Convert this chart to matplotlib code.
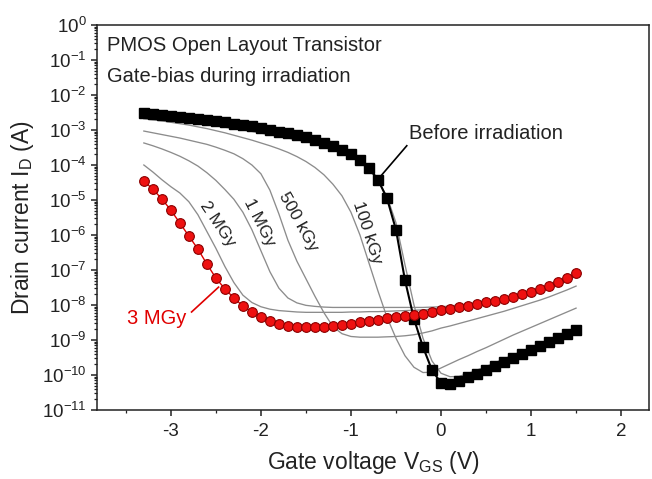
import numpy as np
import matplotlib
matplotlib.use('Agg')
import matplotlib.pyplot as plt
from matplotlib.ticker import LogLocator, LogFormatterSciNotation, MultipleLocator, NullFormatter

plt.rcParams['font.family'] = ['Liberation Sans', 'DejaVu Sans']
plt.rcParams['mathtext.fontset'] = 'custom'
plt.rcParams['mathtext.rm'] = 'Liberation Sans'
plt.rcParams['mathtext.it'] = 'Liberation Sans:italic'
plt.rcParams['mathtext.bf'] = 'Liberation Sans:bold'
plt.rcParams['axes.unicode_minus'] = False

# gate voltage sweep (V)
vgs = [-3.3, -3.2, -3.1, -3.0, -2.9, -2.8, -2.7, -2.6, -2.5, -2.4,
       -2.3, -2.2, -2.1, -2.0, -1.9, -1.8, -1.7, -1.6, -1.5, -1.4,
       -1.3, -1.2, -1.1, -1.0, -0.9, -0.8, -0.7, -0.6, -0.5, -0.4,
       -0.3, -0.2, -0.1, 0.0, 0.1, 0.2, 0.3, 0.4, 0.5, 0.6,
       0.7, 0.8, 0.9, 1.0, 1.1, 1.2, 1.3, 1.4, 1.5]

# log10 of drain current (A)
log_before = [-2.52, -2.54, -2.56, -2.59, -2.62, -2.65, -2.68, -2.71, -2.74, -2.78,
              -2.82, -2.86, -2.90, -2.95, -3.00, -3.05, -3.10, -3.15, -3.21, -3.28,
              -3.36, -3.45, -3.56, -3.68, -3.85, -4.08, -4.42, -4.95, -5.85, -7.29,
              -8.40, -9.20, -9.86, -10.23, -10.26, -10.18, -10.07, -9.96, -9.85, -9.74,
              -9.62, -9.51, -9.40, -9.28, -9.17, -9.05, -8.94, -8.83, -8.71]

log_3mgy = [-4.46, -4.69, -4.97, -5.29, -5.66, -6.03, -6.40, -6.83, -7.23, -7.54,
            -7.80, -8.03, -8.20, -8.34, -8.46, -8.54, -8.60, -8.63, -8.63, -8.63,
            -8.62, -8.60, -8.57, -8.53, -8.49, -8.46, -8.42, -8.38, -8.35, -8.32,
            -8.29, -8.25, -8.20, -8.14, -8.11, -8.06, -8.03, -7.97, -7.91, -7.89,
            -7.83, -7.77, -7.69, -7.63, -7.54, -7.46, -7.34, -7.23, -7.09]

log_2mgy = [-4.00, -4.20, -4.42, -4.62, -4.80, -5.05, -5.42, -5.90, -6.38, -6.90,
            -7.36, -7.72, -7.93, -8.05, -8.12, -8.16, -8.18, -8.20, -8.21, -8.21,
            -8.21, -8.21, -8.21, -8.20, -8.20, -8.19, -8.19, -8.18, -8.17, -8.16,
            -8.15, -8.14, -8.12, -8.10, -8.08, -8.05, -8.01, -7.97, -7.92, -7.88,
            -7.83, -7.77, -7.71, -7.64, -7.57, -7.49, -7.40, -7.29, -7.17]

log_1mgy = [-3.37, -3.45, -3.54, -3.64, -3.75, -3.88, -4.03, -4.22, -4.44, -4.70,
            -4.98, -5.35, -5.85, -6.45, -7.05, -7.52, -7.80, -7.94, -8.01, -8.04,
            -8.06, -8.07, -8.07, -8.07, -8.07, -8.07, -8.07, -8.07, -8.07, -8.07,
            -8.07, -8.07, -8.06, -8.05, -8.03, -8.00, -7.97, -7.93, -7.89, -7.85,
            -7.80, -7.75, -7.69, -7.63, -7.56, -7.48, -7.39, -7.29, -7.17]

log_500kgy = [-3.03, -3.08, -3.13, -3.18, -3.23, -3.29, -3.35, -3.41, -3.49, -3.58,
              -3.68, -3.82, -4.00, -4.25, -4.72, -5.40, -6.15, -6.75, -7.25, -7.75,
              -8.22, -8.62, -8.82, -8.90, -8.92, -8.92, -8.92, -8.91, -8.90, -8.88,
              -8.85, -8.80, -8.74, -8.66, -8.60, -8.53, -8.46, -8.39, -8.32, -8.25,
              -8.18, -8.10, -8.02, -7.94, -7.86, -7.77, -7.67, -7.57, -7.46]

log_100kgy = [-2.68, -2.71, -2.74, -2.78, -2.82, -2.86, -2.91, -2.96, -3.02, -3.08,
              -3.15, -3.22, -3.29, -3.37, -3.45, -3.54, -3.64, -3.76, -3.90, -4.07,
              -4.28, -4.55, -4.88, -5.35, -6.00, -6.80, -7.60, -8.35, -8.95, -9.45,
              -9.78, -9.93, -9.92, -9.80, -9.68, -9.56, -9.45, -9.33, -9.22, -9.10,
              -8.98, -8.86, -8.75, -8.64, -8.53, -8.42, -8.31, -8.20, -8.09]

log_low = [-2.62, -2.64, -2.67, -2.70, -2.73, -2.77, -2.80, -2.84, -2.88, -2.92,
           -2.96, -3.00, -3.04, -3.09, -3.13, -3.18, -3.23, -3.28, -3.33, -3.39,
           -3.46, -3.54, -3.64, -3.76, -3.92, -4.13, -4.45, -4.90, -5.65, -6.85,
           -8.00, -8.95, -9.60, -9.95, -10.05, -10.04, -9.96, -9.86, -9.76, -9.65,
           -9.54, -9.43, -9.32, -9.21, -9.10, -8.99, -8.88, -8.77, -8.66]

gray_curves = [log_low, log_100kgy, log_500kgy, log_1mgy, log_2mgy]

dose_labels = ['2 MGy', '1 MGy', '500 kGy', '100 kGy']
dose_label_x = [-2.48, -2.02, -1.59, -0.82]
dose_label_logy = [-5.69, -5.63, -5.63, -5.94]
dose_label_rot = [-56, -63, -61, -72]

txt = '#222222'

fig = plt.figure(figsize=(6.52, 4.79), dpi=100)
ax = fig.add_axes([0.1488, 0.1441, 0.8466, 0.8037])

x = np.array(vgs)
for c in gray_curves:
    ax.plot(x, 10.0 ** np.array(c), color='#8c8c8c', lw=0.95, zorder=2)

ax.plot(x, 10.0 ** np.array(log_before), color='black', lw=1.5, marker='s',
        ms=7, mfc='black', mec='black', zorder=3)
ax.plot(x, 10.0 ** np.array(log_3mgy), color='#e00000', lw=1.0, marker='o',
        ms=7, mfc='#ee1111', mec='#8a0000', mew=0.8, zorder=4)

for lab, lx, ly, rot in zip(dose_labels, dose_label_x, dose_label_logy, dose_label_rot):
    ax.text(lx, 10.0 ** ly, lab, rotation=rot, rotation_mode='anchor',
            ha='center', va='center', fontsize=12.5, color=txt)

ax.text(-0.35, 10.0 ** -3.09, 'Before irradiation', fontsize=14.5, color=txt,
        ha='left', va='center')
ax.plot([-0.38, -0.68], [10.0 ** -3.45, 10.0 ** -4.35], color='black', lw=1.2, zorder=5)

ax.text(-3.49, 10.0 ** -8.39, '3 MGy', fontsize=14.5, color='#e00000',
        ha='left', va='center')
ax.plot([-2.77, -2.47], [10.0 ** -8.2, 10.0 ** -7.49], color='#e00000', lw=1.2, zorder=5)

ax.text(0.018, 0.948, 'PMOS Open Layout Transistor', transform=ax.transAxes,
        fontsize=14.5, color=txt, ha='left', va='center')
ax.text(0.018, 0.865, 'Gate-bias during irradiation', transform=ax.transAxes,
        fontsize=14.5, color=txt, ha='left', va='center')

ax.set_yscale('log')
ax.set_ylim(1e-11, 1e0)
ax.set_xlim(-3.82, 2.31)

ax.xaxis.set_major_locator(MultipleLocator(1))
ax.xaxis.set_minor_locator(MultipleLocator(0.5))
ax.yaxis.set_major_locator(LogLocator(base=10, numticks=20))
ax.yaxis.set_minor_locator(LogLocator(base=10, subs=np.arange(2, 10), numticks=20))
ax.yaxis.set_major_formatter(LogFormatterSciNotation())
ax.yaxis.set_minor_formatter(NullFormatter())

ax.tick_params(which='major', direction='out', length=4.5, width=1.1,
               labelsize=13.5, colors='#222222', pad=3)
ax.tick_params(which='minor', direction='out', length=2.5, width=0.9, colors='#222222')
ax.tick_params(axis='x', which='major', pad=5)

for s in ax.spines.values():
    s.set_linewidth(1.1)
    s.set_color('#222222')

ax.set_xlabel('Gate voltage V$_{\\mathrm{GS}}$ (V)', fontsize=16.5, color=txt, labelpad=6)
ax.set_ylabel('Drain current I$_{\\mathrm{D}}$ (A)', fontsize=16.5, color=txt, labelpad=4)

fig.savefig('out.png', dpi=100)
